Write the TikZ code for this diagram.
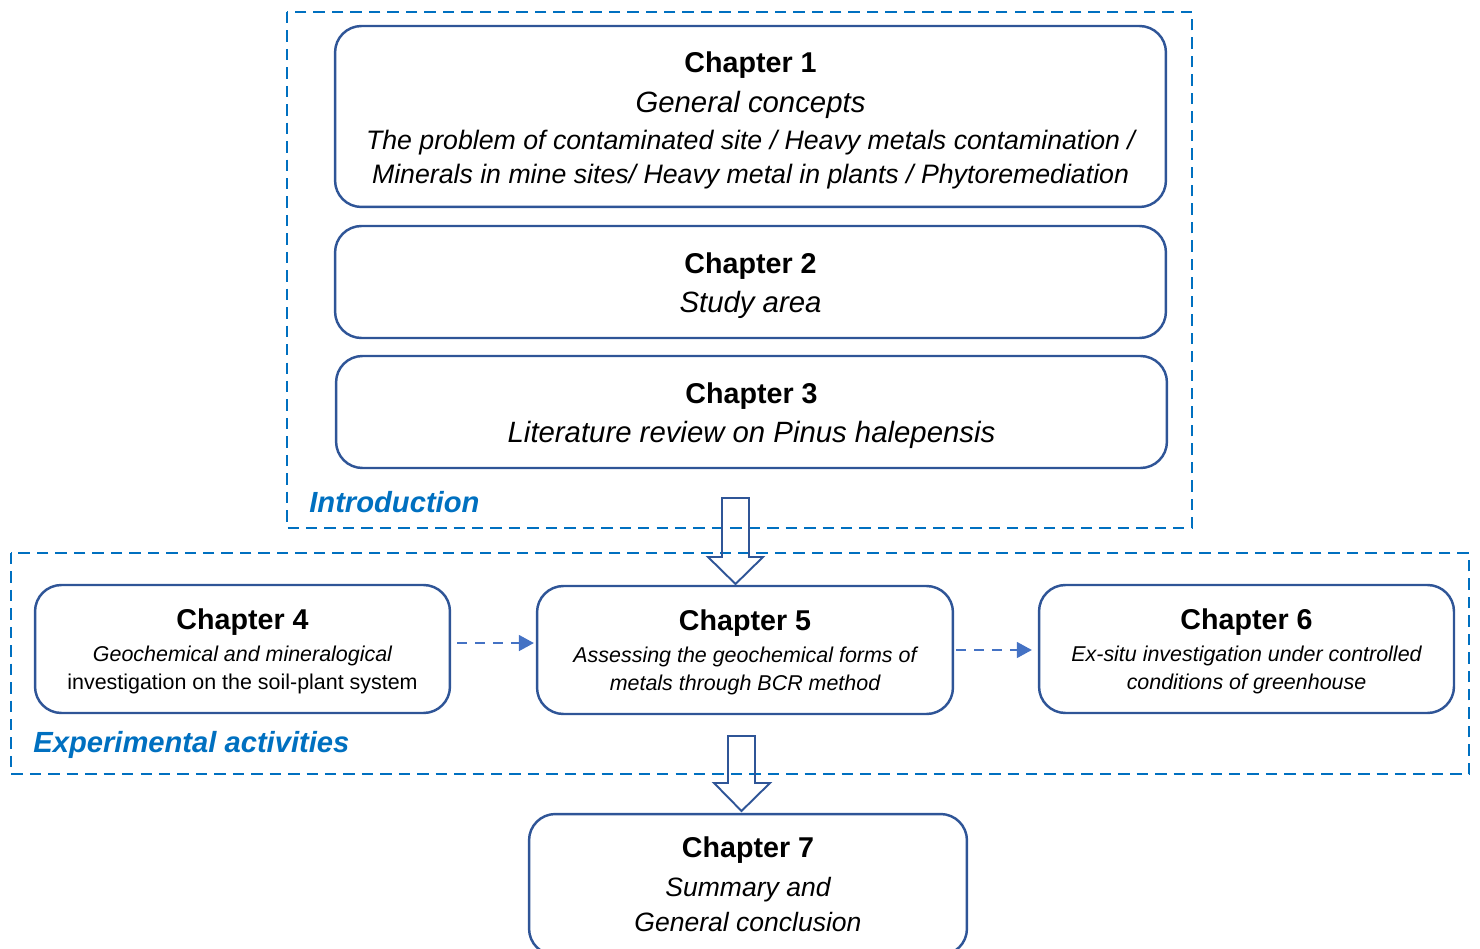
\documentclass[tikz,border=0pt]{standalone}
\usepackage{fontspec}
\setmainfont{Liberation Sans}
\usetikzlibrary{arrows.meta}
\definecolor{boxblue}{HTML}{2F5597}
\definecolor{frameblue}{HTML}{0070C0}
\definecolor{linkblue}{HTML}{4472C4}
\tikzset{>={Triangle[length=8.5pt,width=9pt]}}
\tikzset{
  chapbox/.style={draw=boxblue,line width=1.4pt,rounded corners=15pt,align=center,inner sep=0pt},
  bigbox/.style={chapbox,minimum width=16.62cm,font=\fontsize{15.2}{19.8}\selectfont},
  smallbox/.style={chapbox,minimum width=8.3cm,minimum height=2.56cm,font=\fontsize{12.2}{16.2}\selectfont},
  partframe/.style={draw=frameblue,line width=1.1pt,dash pattern=on 6.5pt off 4pt},
  partlabel/.style={anchor=west,text=frameblue,inner sep=0pt,font=\fontsize{16.6}{20}\selectfont\bfseries\itshape},
  blockarrow/.style={draw=boxblue,line width=1.1pt,line join=miter},
  dasharrow/.style={->,draw=linkblue,line width=1.1pt,dash pattern=on 5.7pt off 4.5pt}
}
% title line, the strut pushes the text of the box a little down
\newcommand\chaptitle[2][16.3pt]{{\fontsize{16.3}{20}\selectfont\bfseries\rule{0pt}{#1}#2}}
\newcommand\chapsub[1]{{\fontsize{16.7}{20}\selectfont\itshape #1}}

\begin{document}
\begin{tikzpicture}[x=0.02cm,y=-0.02cm] % one unit = one pixel, y downwards
  \clip (0,0) rectangle (1480,949);
  % dashed frames of the two parts
  \draw[partframe] (287,12) rectangle (1192,528);
  \draw[partframe] (11,553) rectangle (1469,774);
  \node[partlabel] (introlabel) at (309,502) {Introduction};
  \node[partlabel] (explabel) at (33,745) {Experimental activities};
  % introduction chapters
  \node[bigbox,minimum height=3.62cm] (ch1) at (750.5,116.5) {%
    \chaptitle{Chapter 1}\\[2.9pt]
    \chapsub{General concepts}\\[1.2pt]
    {\itshape The problem of contaminated site / Heavy metals contamination /}\\
    {\itshape Minerals in mine sites/ Heavy metal in plants / Phytoremediation}};
  \node[bigbox,minimum height=2.24cm] (ch2) at (750.5,282) {%
    \chaptitle{Chapter 2}\\[2.2pt]
    \chapsub{Study area}};
  \node[bigbox,minimum height=2.24cm] (ch3) at (751.5,412) {%
    \chaptitle{Chapter 3}\\[2.6pt]
    \chapsub{Literature review on Pinus halepensis}};
  % experimental chapters
  \node[smallbox] (ch4) at (242.5,649) {%
    \chaptitle[14.9pt]{Chapter 4}\\[1.8pt]
    {\itshape Geochemical and mineralogical}\\
    {investigation on the soil-plant system}};
  \node[smallbox,minimum width=8.32cm] (ch5) at (745,650) {%
    \chaptitle[14.7pt]{Chapter 5}\\[2pt]
    {\itshape Assessing the geochemical forms of}\\
    {\itshape metals through BCR method}};
  \node[smallbox] (ch6) at (1246.5,649) {%
    \chaptitle[14.7pt]{Chapter 6}\\[2pt]
    {\itshape Ex-situ investigation under controlled}\\
    {\itshape conditions of greenhouse}};
  % conclusion
  \node[chapbox,minimum width=8.76cm,minimum height=2.82cm,font=\fontsize{15.1}{19.8}\selectfont] (ch7) at (748,884.5) {%
    \chaptitle[0pt]{Chapter 7}\\[2.4pt]
    {\itshape Summary and}\\
    {\itshape General conclusion}};
  % links between the experimental chapters
  \draw[dasharrow,shorten <=3.4pt,shorten >=1.1pt] ([yshift=3.4pt]ch4.east) -- ([yshift=3.4pt]ch4.east -| ch5.west);
  \draw[dasharrow,shorten <=1.1pt,shorten >=3.4pt] (ch5.east) -- (ch5.east -| ch6.west);
  % hollow block arrows between the parts
  \draw[blockarrow] (722,498) -- (749,498) -- (749,557) -- (763,557) -- (735.5,584)
    -- (708,557) -- (722,557) -- cycle;
  \draw[blockarrow] (728,736) -- (755,736) -- (755,783) -- (770,783) -- (741.5,811)
    -- (714,783) -- (728,783) -- cycle;
\end{tikzpicture}
\end{document}
